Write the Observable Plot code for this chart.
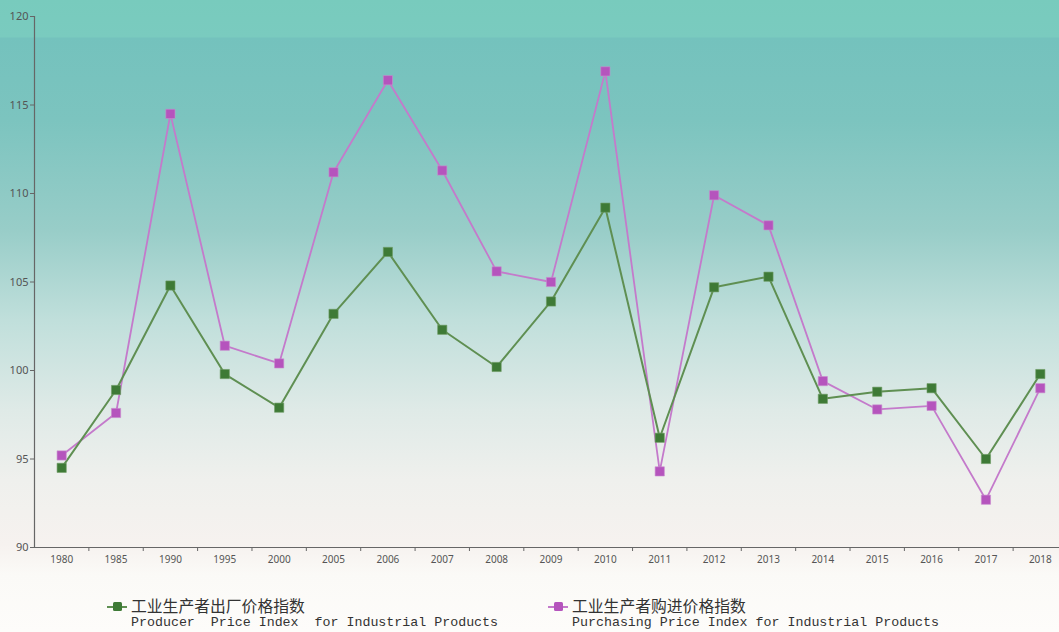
<!DOCTYPE html>
<html>
<head>
<meta charset="utf-8">
<script src="https://cdn.jsdelivr.net/npm/d3@7"></script>
<script src="https://cdn.jsdelivr.net/npm/@observablehq/plot@0.6"></script>
<style>
  html, body { margin: 0; padding: 0; }
  body {
    width: 1059px; height: 632px; overflow: hidden; position: relative;
    background: linear-gradient(to bottom,
      #78cbbd 0px, #7acbbf 37px, #74c2bd 38px, #7cc4bf 120px, #98cdc8 230px,
      #c0dfdb 320px, #dfeae7 410px, #eff0ed 480px, #f6f2ef 545px, #fbfaf7 575px, #fdfcfa 632px);
  }
  #chart { position: absolute; left: 0; top: 0; }
  .legend { position: absolute; top: 601px; }
  .legend .sw { position: absolute; top: 5px; width: 20px; height: 2px; }
  .legend .sq { position: absolute; top: 1px; left: 6px; width: 9px; height: 9px; border-radius: 1.5px; }
  .legend .zh { position: absolute; left: 24px; top: -7px; font-family: "Noto Sans CJK SC", sans-serif; font-size: 15.8px; color: #333; white-space: nowrap; }
  .legend .en { position: absolute; left: 24px; top: 14px; font-family: "Liberation Mono", "DejaVu Sans Mono", monospace; font-size: 13.3px; color: #333; white-space: pre; }
</style>
</head>
<body>
<div id="chart"></div>
<div class="legend" style="left:107px">
  <div class="sw" style="background:#5f8f52"></div><div class="sq" style="background:#3e7a36"></div>
  <div class="zh">工业生产者出厂价格指数</div>
  <div class="en">Producer  Price Index  for Industrial Products</div>
</div>
<div class="legend" style="left:548px">
  <div class="sw" style="background:#c47acb"></div><div class="sq" style="background:#b554bd"></div>
  <div class="zh">工业生产者购进价格指数</div>
  <div class="en">Purchasing Price Index for Industrial Products</div>
</div>
<script>
const years = ["1980","1985","1990","1995","2000","2005","2006","2007","2008","2009","2010","2011","2012","2013","2014","2015","2016","2017","2018"];
const producerIndex = [94.5, 98.9, 104.8, 99.8, 97.9, 103.2, 106.7, 102.3, 100.2, 103.9, 109.2, 96.2, 104.7, 105.3, 98.4, 98.8, 99.0, 95.0, 99.8];
const purchasingIndex = [95.2, 97.6, 114.5, 101.4, 100.4, 111.2, 116.4, 111.3, 105.6, 105.0, 116.9, 94.3, 109.9, 108.2, 99.4, 97.8, 98.0, 92.7, 99.0];
const yTicks = [90, 95, 100, 105, 110, 115, 120];

const ppi = years.map((y, i) => ({i, year: y, v: producerIndex[i]}));
const pur = years.map((y, i) => ({i, year: y, v: purchasingIndex[i]}));

const green = "#5f8f52", greenDot = "#3e7a36";
const purple = "#c47acb", purpleDot = "#b554bd";

const chart = Plot.plot({
  width: 1059,
  height: 575,
  marginLeft: 34,
  marginTop: 16,
  marginBottom: 28,
  marginRight: 0,
  style: {background: "transparent", fontFamily: "'Noto Sans', sans-serif", overflow: "visible"},
  x: {type: "linear", domain: [-0.5, years.length - 0.5], range: [34, 1067]},
  y: {domain: [90, 120]},
  marks: [
    Plot.axisY({ticks: yTicks, tickSize: 4, tickPadding: 2, stroke: "#666", fill: "#555", fontSize: 11, label: null}),
    Plot.axisX({ticks: d3.range(0.5, years.length, 1), tickSize: 4, tickFormat: () => "", stroke: "#666", label: null}),
    Plot.axisX({ticks: d3.range(years.length), tickSize: 0, tickPadding: 8, tickFormat: i => years[i], fill: "#555", fontSize: 10, label: null}),
    Plot.ruleX([-0.5], {stroke: "#666", strokeWidth: 1.2}),
    Plot.ruleY([90], {stroke: "#666", strokeWidth: 1.2}),
    Plot.line(pur, {x: "i", y: "v", stroke: purple, strokeWidth: 1.8}),
    Plot.line(ppi, {x: "i", y: "v", stroke: green, strokeWidth: 2}),
    Plot.dot(pur, {x: "i", y: "v", symbol: "square", r: 5.2, fill: purpleDot, stroke: "#c98ccf", strokeWidth: 0.6}),
    Plot.dot(ppi, {x: "i", y: "v", symbol: "square", r: 5.2, fill: greenDot, stroke: "#6f9c64", strokeWidth: 0.6})
  ]
});
document.getElementById("chart").appendChild(chart);
</script>
</body>
</html>
